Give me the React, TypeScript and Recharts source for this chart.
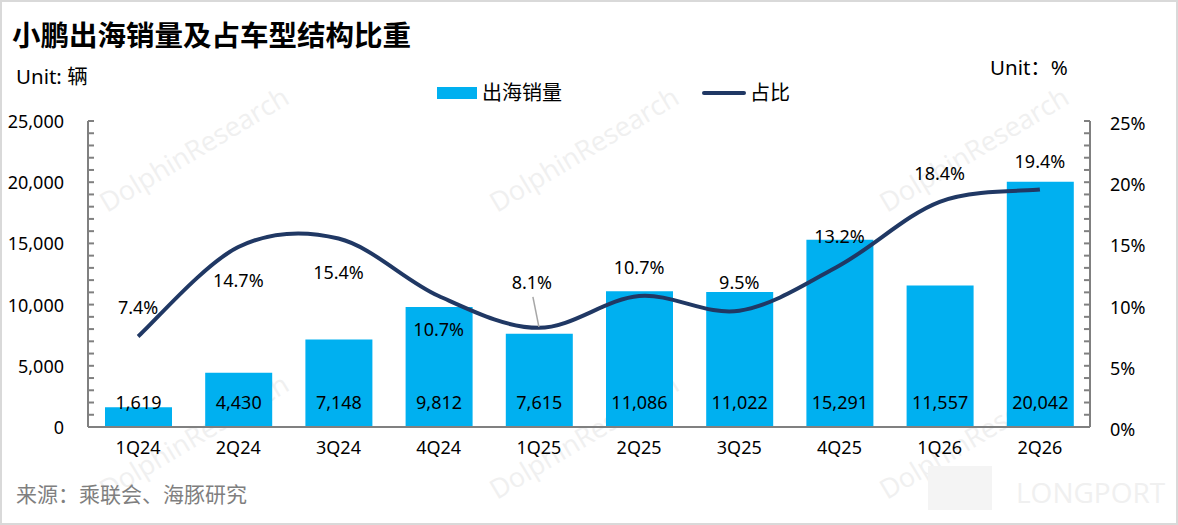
import React from "react";
import { ComposedChart, Bar, Line, XAxis, YAxis, LabelList } from "recharts";

const QUARTERS = ["1Q24", "2Q24", "3Q24", "4Q24", "1Q25", "2Q25", "3Q25", "4Q25", "1Q26", "2Q26"];
const OVERSEAS_SALES = [1619, 4430, 7148, 9812, 7615, 11086, 11022, 15291, 11557, 20042];
const SHARE_PCT = [7.4, 14.7, 15.4, 10.7, 8.1, 10.7, 9.5, 13.2, 18.4, 19.4];
const LEFT_TICKS = Array.from({ length: 26 }, (_, i) => i * 1000);
const RIGHT_TICKS = Array.from({ length: 26 }, (_, i) => i);

// labels that Excel put under the line instead of above it
const BELOW = new Set(["2Q24", "3Q24", "4Q24"]);
const LEADER = "1Q25";

const FONT = "'Noto Sans', 'Noto Sans CJK SC', sans-serif";
const BAR = "#00b0f0";
const NAVY = "#203864";
const AXIS = "#808080";

const data = QUARTERS.map((q, i) => ({ q, sales: OVERSEAS_SALES[i], share: SHARE_PCT[i] }));

// Excel-style smoothed line (Catmull-Rom as bezier)
function excelCurve(context: any) {
  let pts: number[][] = [];
  return {
    areaStart() {},
    areaEnd() {},
    lineStart() {
      pts = [];
    },
    point(x: number, y: number) {
      pts.push([+x, +y]);
    },
    lineEnd() {
      if (!pts.length) return;
      context.moveTo(pts[0][0], pts[0][1]);
      for (let i = 0; i < pts.length - 1; i++) {
        const p0 = pts[i - 1] || pts[i];
        const p1 = pts[i];
        const p2 = pts[i + 1];
        const p3 = pts[i + 2] || p2;
        context.bezierCurveTo(
          p1[0] + (p2[0] - p0[0]) / 6,
          p1[1] + (p2[1] - p0[1]) / 6,
          p2[0] - (p3[0] - p1[0]) / 6,
          p2[1] - (p3[1] - p1[1]) / 6,
          p2[0],
          p2[1]
        );
      }
    },
  };
}

const LeftTick = ({ x, y, payload }: any) => (
  <g>
    <line x1={x} x2={x + 6} y1={y} y2={y} stroke={AXIS} strokeWidth={2} />
    {payload.value % 5000 === 0 && (
      <text x={x - 24} y={y} textAnchor="end" dominantBaseline="central" fontSize={18} fill="#000" fontFamily={FONT}>
        {payload.value.toLocaleString("en-US")}
      </text>
    )}
  </g>
);

const RightTick = ({ x, y, payload }: any) => (
  <g>
    <line x1={x} x2={x - 6} y1={y} y2={y} stroke={AXIS} strokeWidth={2} />
    {payload.value % 5 === 0 && (
      <text x={x + 20} y={y + 2} textAnchor="start" dominantBaseline="central" fontSize={18} fill="#000" fontFamily={FONT}>
        {payload.value}%
      </text>
    )}
  </g>
);

const BarValue = ({ x, width, y, height, value }: any) => (
  <text
    x={x + width / 2}
    y={y + height - 25}
    textAnchor="middle"
    dominantBaseline="central"
    fontSize={18}
    fill="#000"
    fontFamily={FONT}
  >
    {Number(value).toLocaleString("en-US")}
  </text>
);

const ShareValue = ({ x, y, value, index }: any) => {
  const q = QUARTERS[index];
  const txt = `${Number(value).toFixed(1)}%`;
  if (q === LEADER) {
    return (
      <g>
        <line x1={x - 6} y1={y - 31} x2={x} y2={y - 1} stroke="#a6a6a6" strokeWidth={1.5} />
        <text x={x - 7} y={y - 46} textAnchor="middle" dominantBaseline="central" fontSize={18} fill="#000" fontFamily={FONT}>
          {txt}
        </text>
      </g>
    );
  }
  const dy = BELOW.has(q) ? 33 : -29;
  return (
    <text x={x} y={y + dy} textAnchor="middle" dominantBaseline="central" fontSize={18} fill="#000" fontFamily={FONT}>
      {txt}
    </text>
  );
};

const Watermarks = () => {
  const starts = [
    [107, 213],
    [497, 213],
    [887, 213],
    [107, 500],
    [497, 500],
    [887, 500],
  ];
  return (
    <svg width={1178} height={525} style={{ position: "absolute", left: 0, top: 0 }}>
      {starts.map(([x, y], i) => (
        <text
          key={i}
          x={x}
          y={y}
          transform={`rotate(-31 ${x} ${y})`}
          fontSize={27}
          fill="#f0f0f0"
          fontFamily="'Open Sans', sans-serif"
        >
          DolphinResearch
        </text>
      ))}
      <rect x={928} y={466} width={64} height={44} fill="#f4f4f4" />
      <text x={1016} y={503} fontSize={28} fill="#f0f0f0" fontFamily="'Open Sans', sans-serif">
        LONGPORT
      </text>
    </svg>
  );
};

export default function App() {
  return (
    <div
      style={{
        position: "absolute",
        left: 0,
        top: 0,
        width: 1178,
        height: 525,
        background: "#fff",
        fontFamily: FONT,
        overflow: "hidden",
      }}
    >
      <Watermarks />
      <div
        style={{
          position: "absolute",
          left: 0,
          top: 0,
          width: 1174,
          height: 521,
          border: "2px solid #d9d9d9",
          pointerEvents: "none",
        }}
      />
      <div style={{ position: "absolute", left: 12, top: 15, fontSize: 28.5, fontWeight: 700, color: "#000", lineHeight: "40px" }}>
        小鹏出海销量及占车型结构比重
      </div>
      <div style={{ position: "absolute", left: 16, top: 62, fontSize: 20.5, color: "#000", lineHeight: "28px" }}>Unit: 辆</div>
      <div style={{ position: "absolute", left: 990, top: 53, fontSize: 20.5, color: "#000", lineHeight: "28px" }}>Unit：%</div>
      <div style={{ position: "absolute", left: 437, top: 78, display: "flex", alignItems: "center", fontSize: 20, lineHeight: "30px" }}>
        <span style={{ display: "inline-block", width: 40, height: 12, background: BAR, marginRight: 5 }} />
        <span>出海销量</span>
        <span style={{ display: "inline-block", width: 44, height: 4, background: NAVY, borderRadius: 2, marginLeft: 140, marginRight: 4 }} />
        <span>占比</span>
      </div>
      <div style={{ position: "absolute", left: 16, top: 480, fontSize: 21, color: "#7f7f7f", lineHeight: "28px" }}>
        来源：乘联会、海豚研究
      </div>
      <div style={{ position: "absolute", left: 0, top: 0 }}>
        <ComposedChart width={1178} height={525} data={data} margin={{ top: 121, right: 8, bottom: 48, left: 8 }}>
          <XAxis
            dataKey="q"
            axisLine={{ stroke: AXIS, strokeWidth: 2 }}
            tickLine={false}
            tickSize={0}
            tickMargin={14}
            height={50}
            tick={{ fontSize: 18, fill: "#000", fontFamily: FONT }}
          />
          <YAxis
            yAxisId="left"
            domain={[0, 25000]}
            ticks={LEFT_TICKS}
            interval={0}
            width={80}
            axisLine={{ stroke: AXIS, strokeWidth: 2 }}
            tickLine={false}
            tickSize={0}
            tickMargin={0}
            tick={<LeftTick />}
          />
          <YAxis
            yAxisId="right"
            orientation="right"
            domain={[0, 25]}
            ticks={RIGHT_TICKS}
            interval={0}
            width={80}
            axisLine={{ stroke: AXIS, strokeWidth: 2 }}
            tickLine={false}
            tickSize={0}
            tickMargin={0}
            tick={<RightTick />}
          />
          <Bar yAxisId="left" dataKey="sales" fill={BAR} barSize={67} isAnimationActive={false}>
            <LabelList dataKey="sales" content={<BarValue />} />
          </Bar>
          <Line
            yAxisId="right"
            dataKey="share"
            type={excelCurve as any}
            stroke={NAVY}
            strokeWidth={4}
            dot={false}
            isAnimationActive={false}
          >
            <LabelList dataKey="share" content={<ShareValue />} />
          </Line>
        </ComposedChart>
      </div>
    </div>
  );
}
